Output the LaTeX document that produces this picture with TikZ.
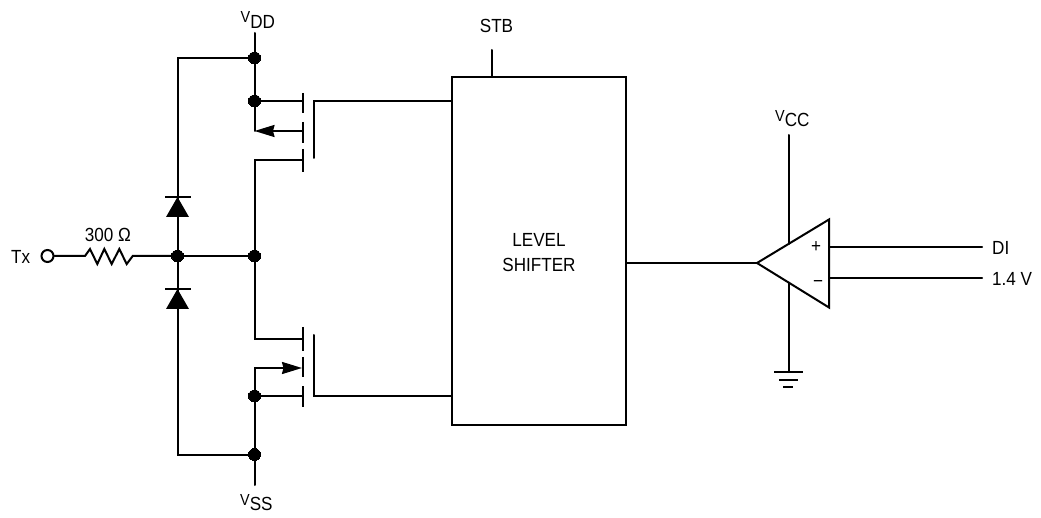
\documentclass[tikz,border=0pt]{standalone}
\usepackage{fontspec}
\setmainfont[FakeStretch=0.9]{Liberation Sans}
\usepackage{tkz-graph}
\usetikzlibrary{arrows.meta}
\tikzset{
  wire/.style={line width=2pt,line cap=round,line join=miter},
  bar/.style={line width=2pt},
  lbl/.style={inner sep=0pt,font=\fontsize{19}{22}\selectfont},
  supply/.style={inner sep=0pt,anchor=base west},
  srcarrow/.style={-{Stealth[inset=1.5pt,length=20pt,width=12pt]}}
}
\newcommand{\Rail}[2]{{\fontsize{16}{18}\selectfont V}\raisebox{#2pt}{\fontsize{19}{22}\selectfont #1}}
\begin{document}
\begin{tikzpicture}[x=1pt,y=-1pt]
    \useasboundingbox (0,0) rectangle (1041,518);
    \GraphInit[vstyle=Normal]
    \SetVertexSimple[MinSize=12pt,LineWidth=0pt,LineColor=black,FillColor=black]
    \Vertex[x=254.5,y=58,NoLabel]{VddTop}
    \Vertex[x=254.5,y=101,NoLabel]{VddBody}
    \Vertex[x=177.5,y=256,NoLabel]{Mid}
    \Vertex[x=254.5,y=256,NoLabel]{Drain}
    \Vertex[x=254.5,y=396,NoLabel]{VssBody}
    \Vertex[x=254.5,y=454.5,NoLabel]{VssBot}
    % labels
    \node[supply] (vddlabel) at (240.5,23) {\Rail{DD}{-6}};
    \node[supply] (vsslabel) at (240,505) {\Rail{SS}{-5}};
    \node[supply] (vcclabel) at (775,122) {\Rail{CC}{-5}};
    \node[lbl,anchor=west] (txlabel) at (11,256.5) {Tx};
    \node[lbl] (rlabel) at (108,235) {300 Ω};
    \node[lbl] (stblabel) at (496.5,26) {STB};
    \node[lbl,anchor=west] (dilabel) at (992,248) {DI};
    \node[lbl,anchor=west] (reflabel) at (992,279) {1.4 V};
    \node[lbl] (plus) at (816,247) {+};
    \node[lbl] (minus) at (818,284) {\textminus};
    % level shifter
    \node[draw,wire,minimum width=174pt,minimum height=348pt,lbl] (shifter) at (539,251) {};
    \node[lbl,align=center] (shiftertext) at (539,252.5) {LEVEL\\[3pt]SHIFTER};
    % points
    \coordinate (VddIn) at (254.5,33);
    \coordinate (VssIn) at (254.5,485);
    \coordinate (LeftTop) at (177.5,58);
    \coordinate (LeftBot) at (177.5,454.5);
    \coordinate (SrcP) at (254.5,131);
    \coordinate (SrcPend) at (302,131);
    \coordinate (DrnP) at (254.5,160);
    \coordinate (DrnPend) at (302,160);
    \coordinate (BodyPend) at (302,101);
    \coordinate (GateP) at (313.5,101);
    \coordinate (GatePend) at (313.5,158);
    \coordinate (DrnN) at (254.5,339);
    \coordinate (DrnNend) at (302,339);
    \coordinate (SrcN) at (254.5,368);
    \coordinate (SrcNend) at (302,368);
    \coordinate (BodyNend) at (302,396);
    \coordinate (GateN) at (313.5,396);
    \coordinate (GateNend) at (313.5,335);
    \coordinate (Stb) at (492,50);
    \coordinate (OpIn) at (757,263);
    \coordinate (OpTop) at (829,219.5);
    \coordinate (OpBot) at (829,307.5);
    \coordinate (VccIn) at (788.5,135);
    \coordinate (VccEnd) at (788.5,244);
    \coordinate (GndEnd) at (788.5,282.5);
    \coordinate (Gnd) at (788.5,372);
    \coordinate (DiEnd) at (982,247.5);
    \coordinate (RefEnd) at (982,278.5);
    \node[circle,draw,wire,minimum size=12pt,inner sep=0pt] (Tx) at (47.5,256) {};
    % wires
    \draw[wire] (VddIn) -- (VddTop) -- (VddBody) -- (SrcP);
    \draw[wire] (VddTop) -- (LeftTop) -- (177.5,197);
    \draw[wire,srcarrow] (SrcPend) -- (SrcP);
    \draw[wire] (VddBody) -- (BodyPend);
    \draw[wire] (DrnPend) -- (DrnP) -- (Drain) -- (DrnN) -- (DrnNend);
    \draw[wire] (GatePend) -- (GateP) -- (GateP -| shifter.west);
    \draw[wire] (GateNend) -- (GateN) -- (GateN -| shifter.west);
    \draw[wire,srcarrow] (VssBody) -- (SrcN) -- (SrcNend);
    \draw[wire] (VssBody) -- (BodyNend);
    \draw[wire] (VssIn) -- (VssBot) -- (VssBody);
    \draw[wire] (VssBot) -- (LeftBot) -- (177.5,289);
    \draw[wire] (177.5,197) -- (Mid) -- (177.5,289);
    \draw[wire] (Mid) -- (Drain);
    \draw[wire] (Tx) -- (85,256) -- (90,249) -- (97.3,264) -- (104.3,249) -- (111.7,264)
        -- (119.3,249) -- (126.7,264) -- (132.7,256) -- (Mid);
    \draw[wire] (Stb) -- (Stb |- shifter.north);
    \draw[wire] (shifter.east |- OpIn) -- (OpIn);
    \draw[wire] (VccIn) -- (VccEnd);
    \draw[wire] (GndEnd) -- (Gnd);
    \draw[wire] (OpTop |- DiEnd) -- (DiEnd);
    \draw[wire] (OpTop |- RefEnd) -- (RefEnd);
    % comparator
    \draw[wire,line join=miter] (OpIn) -- (OpTop) -- (OpBot) -- cycle;
    % gate bars
    \foreach \a/\b in {93/113,122/143,149/172,327/351,357/377,386/407}
        \draw[bar] (302.5,\a) -- (302.5,\b);
    % diodes
    \foreach \y in {197,289} {
        \draw[bar] (165,\y) -- (190.5,\y);
        \fill (177.5,\y) -- (189,\y+20) -- (166,\y+20) -- cycle;
    }
    % ground
    \draw[bar] (774,372) -- (803,372);
    \draw[bar] (779,379.5) -- (798,379.5);
    \draw[bar] (783,387) -- (793,387);
\end{tikzpicture}
\end{document}
